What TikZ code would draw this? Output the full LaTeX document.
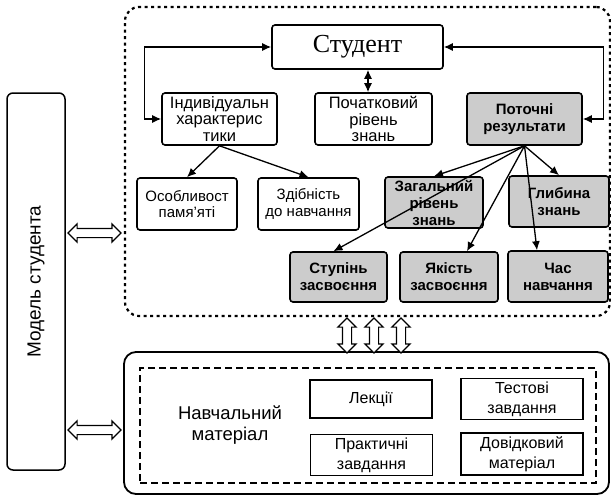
\documentclass[tikz,border=0pt]{standalone}
\usepackage{fontspec}
\setmainfont{Liberation Serif}
\setsansfont{Liberation Sans}
\usetikzlibrary{arrows.meta,shapes.arrows}

\tikzset{
  box/.style={draw, line width=1.6pt, rounded corners=3pt, align=center, inner sep=1pt,
    font=\sffamily\fontsize{16.5}{16.5}\selectfont},
  gbox/.style={box, fill=gray!40, font=\sffamily\bfseries\fontsize{15}{17}\selectfont},
  wbox/.style={draw, line width=1.4pt, align=center, minimum width=122pt, minimum height=38pt,
    font=\sffamily\fontsize{16}{20}\selectfont},
  arr/.style={line width=1.3pt, -{Latex[length=9pt,width=8pt]}},
  dblarr/.style={double arrow, draw, line width=1.2pt, fill=white, inner xsep=0pt,
    inner ysep=4pt, double arrow head extend=4.5pt},
}

\begin{document}
\begin{tikzpicture}[x=1pt,y=-1pt]
\useasboundingbox (0,0) rectangle (611,496);
% student model
\node[draw, line width=1.5pt, rounded corners=6pt, minimum width=58pt, minimum height=377pt] (model) at (36,281.5) {};
\node[rotate=90, font=\sffamily\fontsize{19}{19}\selectfont] (modeltxt) at (model.center) {Модель студента};

% upper part
\node[draw, line width=2.2pt, dash pattern=on 3pt off 3.5pt, rounded corners=14pt,
  minimum width=485pt, minimum height=309pt] (upper) at (367.5,161.5) {};
\node[box, font=\fontsize{26}{26}\selectfont, minimum width=171pt, minimum height=44pt] (student) at (357.5,47) {Студент};
\node[box, minimum width=115pt, minimum height=52pt] (ind) at (219.5,119) {Індивідуальн\\характерис\\тики};
\node[box, minimum width=117pt, minimum height=52pt] (init) at (373.5,119) {Початковий\\рівень\\знань};
\node[gbox, minimum width=115pt, minimum height=52pt] (cur) at (524.5,119) {Поточні\\результати};
\node[box, font=\sffamily\fontsize{15}{16.5}\selectfont, minimum width=100pt, minimum height=52pt] (osob) at (187,204) {Особливост\\памя'яті};
\node[box, font=\sffamily\fontsize{15}{16.5}\selectfont, minimum width=101pt, minimum height=52pt] (zdib) at (308.5,204) {Здібність\\до навчання};
\node[gbox, minimum width=98pt, minimum height=51pt] (zag) at (434,202.5) {Загальний\\рівень\\знань};
\node[gbox, minimum width=100pt, minimum height=51pt] (glyb) at (559,201.5) {Глибина\\знань};
\node[gbox, minimum width=97pt, minimum height=50pt] (stup) at (338.5,277) {Ступінь\\засвоєння};
\node[gbox, minimum width=98pt, minimum height=50pt] (yak) at (449,277) {Якість\\засвоєння};
\node[gbox, minimum width=100pt, minimum height=51pt] (chas) at (558,276.5) {Час\\навчання};

\draw[arr, {Latex[length=9pt,width=8pt]}-{Latex[length=9pt,width=8pt]}] (student.west) -| ([xshift=-17pt]ind.west) -- (ind.west);
\draw[arr, {Latex[length=9pt,width=8pt]}-{Latex[length=9pt,width=8pt]}] (student.east) -| ([xshift=21pt]cur.east) -- (cur.east);
\draw[arr, {Latex[length=9pt,width=8pt]}-{Latex[length=9pt,width=8pt]}] ([xshift=10.5pt]student.south) -- ([xshift=-5.5pt]init.north);
\draw[arr] (ind.south) -- (osob.north);
\draw[arr] (ind.south) -- (zdib.north);
\draw[arr] (cur.south) -- (zag.north);
\draw[arr] (cur.south) -- (glyb.north);
\draw[arr] (cur.south) -- ([xshift=-5pt]stup.north);
\draw[arr] (cur.south) -- ([xshift=18pt]yak.north);
\draw[arr] (cur.south) -- ([xshift=-21pt]chas.north);

% learning material
\node[draw, line width=1.8pt, rounded corners=12pt, minimum width=485pt, minimum height=142pt] (lower) at (366.5,423) {};
\node[draw, line width=1.1pt, dash pattern=on 7pt off 4pt, minimum width=456pt, minimum height=115pt] (inner) at (368,425.5) {};
\node[align=center, font=\sffamily\fontsize{18.5}{21}\selectfont] (navch) at (230,425) {Навчальний\\матеріал};
\node[wbox] (lect) at (371,399) {Лекції};
\node[wbox] (test) at (522,399) {Тестові\\завдання};
\node[wbox] (prakt) at (371.5,455) {Практичні\\завдання};
\node[wbox] (dov) at (522,454) {Довідковий\\матеріал};

% links between the parts
\node[dblarr, minimum height=53pt] (link1) at (94.5,233) {};
\node[dblarr, minimum height=53pt] (link2) at (94.5,430) {};
\foreach \x/\n in {347/a, 374/b, 401/c}
  \node[dblarr, rotate=90, minimum height=35pt] (vlink\n) at (\x,335.5) {};
\end{tikzpicture}
\end{document}
